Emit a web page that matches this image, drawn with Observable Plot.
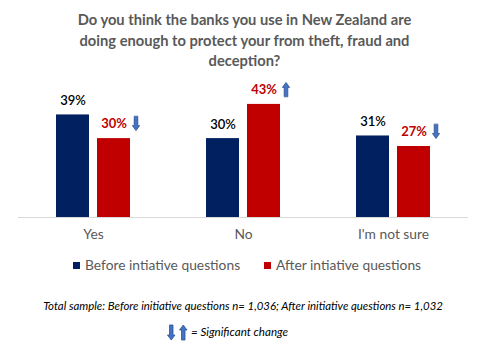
<!DOCTYPE html>
<html>
<head>
<meta charset="utf-8">
<script src="https://cdn.jsdelivr.net/npm/d3@7"></script>
<script src="https://cdn.jsdelivr.net/npm/@observablehq/plot@0.6"></script>
<style>
  html, body { margin: 0; padding: 0; background: #fff; }
  body { width: 479px; height: 355px; position: relative; overflow: hidden; font-family: Lato, "Open Sans", sans-serif; }
  #title { position: absolute; left: 0; top: 9px; width: 489px; text-align: center; font-weight: bold; font-size: 14.7px; line-height: 20.5px; color: #595959; }
  #chart { position: absolute; left: 0; top: 70px; }
  .legend { position: absolute; top: 257px; font-size: 13.8px; color: #595959; white-space: nowrap; line-height: 16px; }
  .legend span.sw { display: inline-block; width: 7px; height: 7px; margin-right: 5px; vertical-align: 1px; }
  #foot { position: absolute; left: 0; top: 299px; width: 486px; text-align: center; font-style: italic; font-size: 11.4px; color: #000; white-space: nowrap; }
  #sig { position: absolute; left: 167px; top: 324px; font-style: italic; font-size: 11.6px; color: #000; white-space: nowrap; }
  #sig svg { vertical-align: -5px; margin-right: 2px; }
</style>
</head>
<body>
<div id="title">Do you think the banks you use in New Zealand are<br>doing enough to protect your from theft, fraud and<br>deception?</div>
<div id="chart"></div>
<div class="legend" style="left:73px"><span class="sw" style="background:#002060"></span>Before intiative questions</div>
<div class="legend" style="left:264px"><span class="sw" style="background:#c00000"></span>After intiative questions</div>
<div id="foot">Total sample: Before initiative questions n= 1,036; After initiative questions n= 1,032</div>
<div id="sig"><svg width="22" height="17" viewBox="0 0 22 17">
  <path d="M2.5 1 h3.5 v10 h2 l-3.75 5 l-3.75 -5 h2 z" fill="#4472c4" stroke="#2f528f" stroke-width="0.8"/>
  <path d="M14.5 16 h3.5 v-10 h2 l-3.75 -5 l-3.75 5 h2 z" fill="#4472c4" stroke="#2f528f" stroke-width="0.8"/>
</svg>= Significant change</div>
<script>
const categories = ["Yes", "No", "I'm not sure"];
const seriesNames = ["Before intiative questions", "After intiative questions"];
const before = [39, 30, 31];
const after = [30, 43, 27];
const afterChange = ["down", "up", "down"];

const rows = [];
categories.forEach((c, i) => {
  rows.push({category: c, series: seriesNames[0], value: before[i], change: null});
  rows.push({category: c, series: seriesNames[1], value: after[i], change: afterChange[i]});
});
const beforeRows = rows.filter(d => d.series === seriesNames[0]);
const afterRows = rows.filter(d => d.series === seriesNames[1]);

const blockArrow = {
  draw(context, l, r) {
    const hw = 1.8, hh = 3.6, head = 5;
    context.moveTo(-hw, 0);
    context.lineTo(-hw, -l + head);
    context.lineTo(-hh, -l + head);
    context.lineTo(0, -l);
    context.lineTo(hh, -l + head);
    context.lineTo(hw, -l + head);
    context.lineTo(hw, 0);
    context.closePath();
  }
};

const chart = Plot.plot({
  width: 479,
  height: 180,
  marginTop: 15.5,
  marginBottom: 33,
  marginLeft: 18,
  marginRight: 11,
  style: {fontFamily: "Lato, 'Open Sans', sans-serif", background: "transparent"},
  fx: {domain: categories, padding: 0, label: null, axis: null},
  x: {domain: seriesNames, paddingInner: 0.2, paddingOuter: 0.89, axis: null},
  y: {domain: [0, 50], axis: null},
  color: {domain: seriesNames, range: ["#002060", "#c00000"]},
  marks: [
    Plot.barY(rows, {fx: "category", x: "series", y: "value", fill: "series"}),
    Plot.ruleY([0], {stroke: "#d9d9d9", strokeWidth: 1}),
    Plot.text(beforeRows, {fx: "category", x: "series", y: "value", text: d => d.value + "%", dy: -14, fill: "#000", fontSize: 13, fontWeight: 600}),
    Plot.text(afterRows, {fx: "category", x: "series", y: "value", text: d => d.value + "%", dy: -15, fill: "#c00000", fontSize: 13, fontWeight: 700}),
    Plot.vector(afterRows, {fx: "category", x: "series", y: "value", dx: 22, dy: -15, length: 14, anchor: "middle",
      rotate: d => d.change === "down" ? 180 : 0, shape: blockArrow, fill: "#4472c4", stroke: "#2f528f", strokeWidth: 0.8}),
    Plot.axisFx({anchor: "bottom", tickSize: 0, tickPadding: 12, fontSize: 13.8, fill: "#595959", label: null})
  ]
});
document.getElementById("chart").appendChild(chart);
</script>
</body>
</html>
